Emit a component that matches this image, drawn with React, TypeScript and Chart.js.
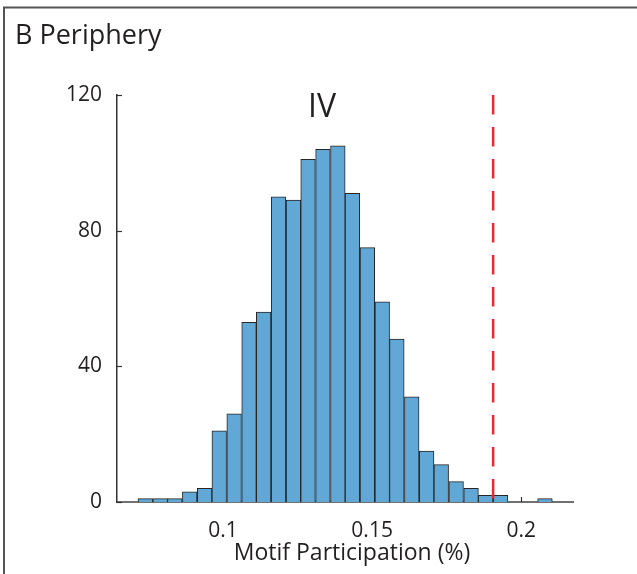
import React, { useEffect, useRef } from 'react';
import { Chart, registerables } from 'chart.js';

Chart.register(...registerables);

// Histogram bin centres (Motif Participation, %)
const binCenters = [
  0.0739, 0.0789, 0.0838, 0.0888, 0.0938, 0.0987, 0.1037, 0.1087, 0.1136, 0.1186,
  0.1236, 0.1285, 0.1335, 0.1385, 0.1434, 0.1484, 0.1534, 0.1583, 0.1633, 0.1683,
  0.1732, 0.1782, 0.1832, 0.1881, 0.1931, 0.1981, 0.2030, 0.2080,
];
// Counts per bin
const counts = [
  1, 1, 1, 3, 4, 21, 26, 53, 56, 90,
  89, 101, 104, 105, 91, 75, 59, 48, 31, 15,
  11, 6, 4, 2, 2, 0, 0, 1,
];
// Observed value (red dashed line)
const thresholdValue = 0.1906;

const yTickValues = [0, 40, 80, 120];
const xTickValues = [0.1, 0.15, 0.2];
const xTickLabels = ['0.1', '0.15', '0.2'];
const xMin = 0.0644;
const xMax = 0.2174;
const yMin = 0;
const yMax = 120;

const panelTitle = 'B Periphery';
const motifLabel = 'IV';
const xAxisTitle = 'Motif Participation (%)';

const FONT = '"Open Sans", "Noto Sans", sans-serif';
const TEXT = '#231f20';

export default function App() {
  const ref = useRef<HTMLCanvasElement>(null);

  useEffect(() => {
    const canvas = ref.current;
    if (!canvas) return;

    const overlay = {
      id: 'overlay',
      beforeDatasetsDraw(chart: any) {
        const { ctx, scales } = chart;
        const x = scales.x;
        const y = scales.y;
        ctx.save();
        ctx.strokeStyle = '#333';
        ctx.lineWidth = 1.2;
        yTickValues.forEach((v) => {
          const py = Math.round(y.getPixelForValue(v)) + 0.5;
          ctx.beginPath();
          ctx.moveTo(x.left, py);
          ctx.lineTo(x.left + 5, py);
          ctx.stroke();
        });
        xTickValues.forEach((v) => {
          const px = Math.round(x.getPixelForValue(v)) + 0.5;
          ctx.beginPath();
          ctx.moveTo(px, y.bottom);
          ctx.lineTo(px, y.bottom - 5);
          ctx.stroke();
        });
        ctx.restore();
      },
      afterDraw(chart: any) {
        const { ctx } = chart;
        ctx.save();
        ctx.fillStyle = TEXT;
        ctx.textBaseline = 'alphabetic';
        ctx.textAlign = 'left';
        ctx.font = `27px ${FONT}`;
        ctx.fillText(panelTitle, 15, 44);
        ctx.font = `32px ${FONT}`;
        ctx.textAlign = 'center';
        ctx.fillText(motifLabel, 322, 117);
        // x-axis title
        ctx.font = `23px ${FONT}`;
        ctx.textBaseline = 'middle';
        ctx.fillText(xAxisTitle, 352, 553);
        // panel frame
        ctx.strokeStyle = '#555';
        ctx.lineWidth = 2;
        ctx.beginPath();
        ctx.moveTo(4, chart.height);
        ctx.lineTo(4, 7.5);
        ctx.lineTo(chart.width, 7.5);
        ctx.stroke();
        ctx.restore();
      },
    };

    const chart = new Chart(canvas, {
      type: 'bar',
      data: {
        datasets: [
          {
            type: 'bar',
            data: binCenters.map((b, i) => ({ x: b, y: counts[i] })),
            backgroundColor: 'rgb(97,168,214)',
            borderColor: '#262626',
            borderWidth: 1,
            barPercentage: 1,
            categoryPercentage: 1,
            order: 2,
          } as any,
          {
            type: 'line',
            data: [
              { x: thresholdValue, y: yMax },
              { x: thresholdValue, y: yMin },
            ],
            borderColor: 'rgb(237,38,48)',
            borderWidth: 2.5,
            borderDash: [19.5, 12.5],
            pointRadius: 0,
            fill: false,
            order: 1,
          } as any,
        ],
      },
      options: {
        responsive: false,
        animation: false,
        devicePixelRatio: 1,
        layout: { padding: { left: 0, right: 64, top: 95, bottom: 0 } },
        plugins: {
          legend: { display: false },
          tooltip: { enabled: false },
          title: { display: false },
        },
        scales: {
          x: {
            type: 'linear',
            min: xMin,
            max: xMax,
            offset: false,
            grid: { display: false, drawTicks: false },
            border: { display: true, color: '#707070', width: 2 },
            afterBuildTicks: (s: any) => {
              s.ticks = xTickValues.map((v) => ({ value: v }));
            },
            afterFit: (s: any) => {
              s.height = 72;
            },
            ticks: {
              callback: (v: any) => {
                const i = xTickValues.findIndex((t) => Math.abs(t - v) < 1e-9);
                return i >= 0 ? xTickLabels[i] : '';
              },
              font: { family: FONT, size: 21 },
              color: TEXT,
              padding: 16,
              maxRotation: 0,
              autoSkip: false,
            },
            title: { display: false },
          },
          y: {
            min: yMin,
            max: yMax,
            grid: { display: false, drawTicks: false },
            border: { display: true, color: '#333', width: 1.5 },
            afterBuildTicks: (s: any) => {
              s.ticks = yTickValues.map((v) => ({ value: v }));
            },
            afterFit: (s: any) => {
              s.width = 117;
            },
            ticks: {
              font: { family: FONT, size: 21 },
              color: TEXT,
              padding: 15,
            },
          },
        },
      } as any,
      plugins: [overlay],
    });

    return () => {
      chart.destroy();
    };
  }, []);

  return (
    <div style={{ position: 'absolute', left: 0, top: 0, width: 637, height: 574, background: '#fff' }}>
      <canvas ref={ref} width={637} height={574} style={{ display: 'block', width: 637, height: 574 }} />
    </div>
  );
}
